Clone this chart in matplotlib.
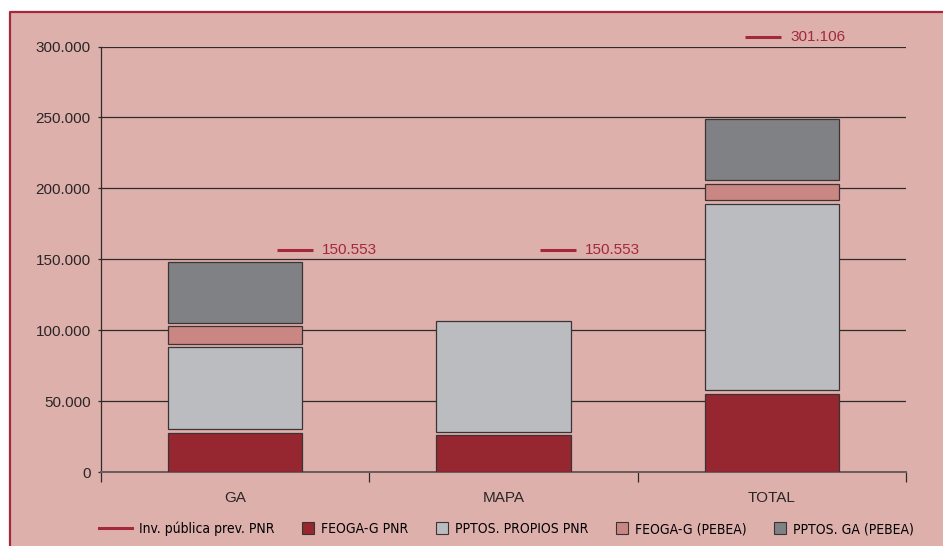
import matplotlib
matplotlib.use("Agg")
import matplotlib.pyplot as plt
import matplotlib.transforms as mtransforms
from matplotlib.patches import Rectangle, Patch
from matplotlib.lines import Line2D
from matplotlib.legend_handler import HandlerPatch
from matplotlib.ticker import FuncFormatter

# data (euros, thousands separator = '.')
categories = ["GA", "MAPA", "TOTAL"]
feoga_pnr = [27700, 25900, 55000]
pptos_propios_pnr = [60200, 80400, 134200]
feoga_pebea = [14850, 0, 13900]
pptos_ga_pebea = [45150, 0, 45800]
inv_publica = [150553, 150553, 301106]

series = [
    ("FEOGA-G PNR", feoga_pnr, "#96262F"),
    ("PPTOS. PROPIOS PNR", pptos_propios_pnr, "#BBBCC0"),
    ("FEOGA-G (PEBEA)", feoga_pebea, "#C98682"),
    ("PPTOS. GA (PEBEA)", pptos_ga_pebea, "#808184"),
]

BG = "#DEB0AC"
RED = "#A3293A"
EDGE = "#3a3435"
GAP = 2500          # visual gap between stacked segments (data units)
TICK_FONT = ["Liberation Sans", "DejaVu Sans"]

# where the reference draws the "—— value" markers, relative to bar centre
marker_span = [(0.155, 0.29), (0.135, 0.27), (-0.10, 0.035)]

fig = plt.figure(figsize=(9.43, 5.46), dpi=100)
fig.patch.set_facecolor("white")
left_px, top_px = 10 / 943, 1 - 12 / 546
fig.patches.append(Rectangle((left_px, 0), 1 - left_px, top_px,
                             transform=fig.transFigure, facecolor=BG,
                             edgecolor="none", zorder=-5))
# only the top and left edges of the panel are visible in the original
fig.lines.append(Line2D([left_px, left_px, 1], [0, top_px, top_px],
                        transform=fig.transFigure, color="#A82839",
                        linewidth=1.6, zorder=-4))

ax = fig.add_axes([101 / 943, 1 - 472 / 546, 805 / 943, (472 - 46.5) / 546])
ax.set_facecolor("none")

x = list(range(len(categories)))
bottoms = [0.0] * len(categories)
for label, vals, color in series:
    for i, v in enumerate(vals):
        if v <= 0:
            continue
        gap = GAP if bottoms[i] > 0 else 0
        ax.bar(x[i], v - gap, bottom=bottoms[i] + gap, width=0.5, color=color,
               edgecolor=EDGE, linewidth=0.9, zorder=3)
        bottoms[i] += v

# investment markers, drawn a few pixels above their value like the original
lift = mtransforms.ScaledTranslation(0, 8 / 100, fig.dpi_scale_trans)
for i, v in enumerate(inv_publica):
    x0, x1 = marker_span[i]
    ax.plot([x[i] + x0, x[i] + x1], [v, v], color=RED, linewidth=2.2,
            transform=ax.transData + lift, clip_on=False, zorder=4,
            solid_capstyle="butt")
    ax.annotate(f"{v:,.0f}".replace(",", "."), xy=(x[i] + x1, v),
                xycoords=ax.transData + lift, xytext=(6.5, 0),
                textcoords="offset points", va="center", ha="left",
                color=RED, fontsize=11, family=TICK_FONT, annotation_clip=False)

ax.set_xlim(-0.5, 2.5)
ax.set_ylim(0, 300000)
ax.set_yticks(range(0, 300001, 50000))
ax.yaxis.set_major_formatter(FuncFormatter(lambda v, _: f"{v:,.0f}".replace(",", ".")))
ax.grid(axis="y", color="#2e2a2a", linewidth=0.9, zorder=1)
ax.set_axisbelow(True)

ax.set_xticks(x)
ax.set_xticklabels(categories)
ax.set_xticks([-0.5, 0.5, 1.5, 2.5], minor=True)
ax.tick_params(axis="x", which="major", length=0, pad=14, labelsize=11)
ax.tick_params(axis="x", which="minor", length=7, width=0.9, color="#2e2a2a")
ax.tick_params(axis="y", length=2.5, width=0.9, color="#2e2a2a", pad=5, labelsize=11)
for lab in ax.get_xticklabels() + ax.get_yticklabels():
    lab.set_family(TICK_FONT)
    lab.set_color("#2a2626")

for side in ("top", "right"):
    ax.spines[side].set_visible(False)
ax.spines["left"].set_color("#2e2a2a")
ax.spines["left"].set_linewidth(0.9)
ax.spines["bottom"].set_color("#6a5c5c")
ax.spines["bottom"].set_linewidth(1.4)


def square(legend, orig_handle, xdescent, ydescent, width, height, fontsize):
    s = 8.5
    return Rectangle((width - xdescent - s, -ydescent + (height - s) / 2), s, s)


handles = [Line2D([], [], color=RED, linewidth=2.2)]
handles += [Patch(facecolor=c, edgecolor=EDGE, linewidth=0.8) for _, _, c in series]
labels = ["Inv. pública prev. PNR"] + [s[0] for s in series]
fig.legend(handles, labels, loc="center", bbox_to_anchor=(0.537, 1 - 529 / 546),
           ncol=5, frameon=False, handlelength=2.4, handletextpad=0.5,
           columnspacing=0.45,
           prop={"family": "DejaVu Sans", "stretch": "condensed", "size": 10},
           handler_map={Patch: HandlerPatch(patch_func=square)})

fig.savefig("out.png", dpi=100)
